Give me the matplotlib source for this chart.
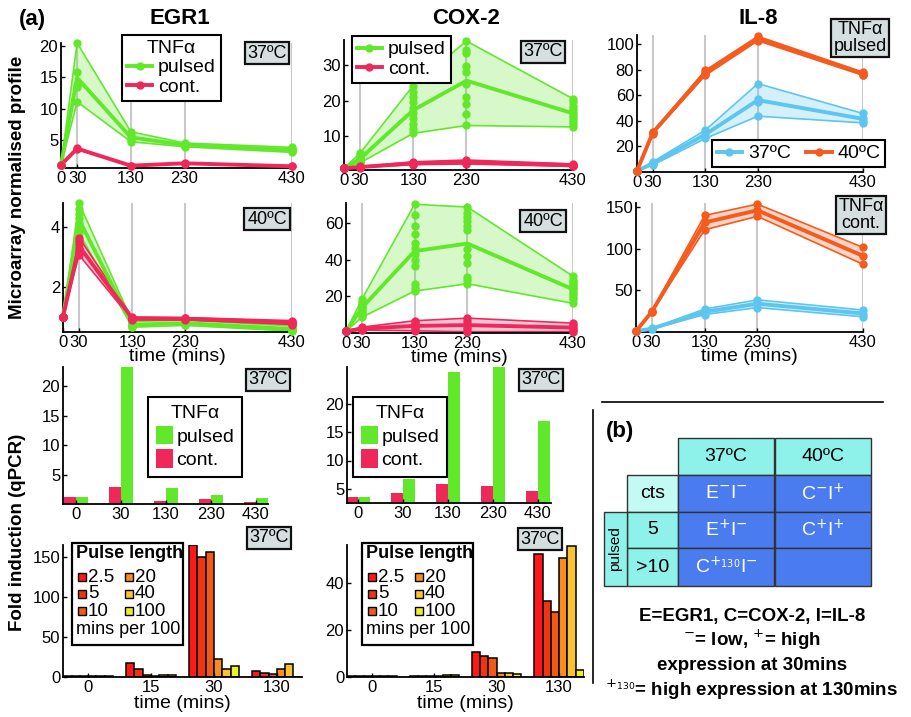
import numpy as np
import matplotlib
matplotlib.use("Agg")
import matplotlib.pyplot as plt
from matplotlib.patches import Rectangle, Patch
from matplotlib.lines import Line2D

plt.rcParams['font.family'] = ['Liberation Sans', 'DejaVu Sans']
plt.rcParams['font.size'] = 12

# ---- data ----
times = [0, 30, 130, 230, 430]

egr1_37_pulsed = [[1, 20.5, 6.3, 4.5, 3.8],
                  [1, 15.9, 5.7, 4.3, 3.6],
                  [1, 13.8, 5.3, 4.2, 3.4],
                  [1, 13.4, 5.0, 4.0, 3.2],
                  [1, 11.1, 4.7, 3.9, 3.0]]
egr1_37_cont = [[1, 3.7, 0.9, 1.3, 0.8],
                [1, 3.5, 0.85, 1.2, 0.75]]
egr1_40_pulsed = [[1, 4.8, 0.85, 0.90, 0.70],
                  [1, 4.6, 0.80, 0.85, 0.65],
                  [1, 4.45, 0.78, 0.82, 0.62],
                  [1, 4.3, 0.75, 0.80, 0.60],
                  [1, 4.15, 0.72, 0.78, 0.58],
                  [1, 4.0, 0.70, 0.76, 0.56],
                  [1, 3.9, 0.68, 0.74, 0.54],
                  [1, 3.8, 0.66, 0.72, 0.53]]
egr1_40_cont = [[1, 3.65, 1.00, 0.98, 0.88],
                [1, 3.55, 0.98, 0.96, 0.85],
                [1, 3.45, 0.96, 0.95, 0.82],
                [1, 3.3, 0.95, 0.94, 0.80],
                [1, 3.2, 0.93, 0.92, 0.78],
                [1, 3.07, 0.90, 0.90, 0.75]]

cox2_37_pulsed = [[1, 5.2, 24.2, 36.7, 20.5],
                  [1, 4.6, 22.5, 34.2, 19.5],
                  [1, 4.2, 21.0, 33.4, 18.5],
                  [1, 3.9, 19.5, 29.7, 17.5],
                  [1, 3.6, 18.0, 27.9, 16.8],
                  [1, 3.4, 16.5, 24.7, 16.0],
                  [1, 3.2, 15.0, 20.9, 15.0],
                  [1, 3.0, 13.5, 19.1, 14.2],
                  [1, 2.8, 12.0, 16.3, 13.4],
                  [1, 2.5, 10.8, 13.0, 12.6]]
cox2_37_cont = [[1, 1.5, 2.8, 3.3, 2.2],
                [1, 1.4, 2.6, 3.0, 2.0],
                [1, 1.35, 2.4, 2.8, 1.9],
                [1, 1.3, 2.3, 2.6, 1.8],
                [1, 1.25, 2.1, 2.4, 1.7],
                [1, 1.2, 2.0, 2.2, 1.5]]
cox2_40_pulsed = [[1, 18.4, 70.3, 68.8, 31.0],
                  [1, 17.0, 64.3, 65.6, 29.2],
                  [1, 16.0, 58.4, 63.4, 28.0],
                  [1, 15.5, 53.9, 61.1, 26.5],
                  [1, 15.0, 49.4, 58.4, 25.5],
                  [1, 14.5, 46.3, 56.2, 24.5],
                  [1, 14.0, 43.0, 45.8, 23.8],
                  [1, 13.0, 40.0, 42.2, 22.5],
                  [1, 12.0, 36.8, 38.5, 21.1],
                  [1, 11.0, 26.5, 30.6, 19.5],
                  [1, 10.0, 24.7, 28.8, 18.4],
                  [1, 8.6, 22.9, 26.9, 16.2]]
cox2_40_cont = [[1, 3.2, 6.7, 8.1, 5.4],
                [1, 2.8, 5.5, 6.5, 4.4],
                [1, 2.5, 4.3, 5.0, 3.4],
                [1, 2.2, 3.4, 3.5, 2.4],
                [1, 1.9, 2.2, 2.0, 1.5],
                [1, 1.6, 1.2, 0.7, 0.7]]

il8_pulsed_40 = [[1, 31.5, 79.4, 106.0, 78.0],
                 [1, 31.0, 78.0, 104.5, 77.0],
                 [1, 30.5, 76.5, 103.5, 76.0],
                 [1, 30.0, 75.5, 102.5, 75.5]]
il8_pulsed_37 = [[1, 8.0, 32.7, 69.0, 45.7],
                 [1, 7.0, 30.5, 57.0, 41.8],
                 [1, 6.0, 28.0, 55.0, 40.0],
                 [1, 5.4, 26.2, 43.6, 38.4]]
il8_cont_40 = [[1, 25.0, 140.0, 153.7, 101.6],
               [1, 24.4, 132.0, 146.0, 91.5],
               [1, 23.8, 122.8, 139.0, 81.3]]
il8_cont_37 = [[1, 4.5, 27.6, 38.6, 26.4],
               [1, 4.0, 24.0, 34.0, 22.0],
               [1, 3.5, 21.0, 29.3, 18.3]]

qpcr_times = ['0', '30', '130', '230', '430']
egr1_qpcr_cont = [1.2, 2.9, 0.5, 0.85, 0.35]
egr1_qpcr_pulsed = [1.2, 23.5, 2.7, 1.5, 1.0]
cox2_qpcr_cont = [3.5, 4.2, 5.8, 5.5, 4.6]
cox2_qpcr_pulsed = [3.5, 6.7, 25.7, 27.0, 16.9]

pulse_times = ['0', '15', '30', '130']
pulse_labels = ['2.5', '5', '10', '20', '40', '100']
# rows = pulse length, columns = time
egr1_pulse = [[0.8, 17.0, 165.0, 7.0],
              [0.8, 10.0, 150.0, 4.6],
              [0.8, 2.0, 156.0, 4.0],
              [0.8, 1.5, 22.0, 10.0],
              [1.5, 3.0, 10.0, 16.0],
              [0.8, 2.5, 14.0, 0.5]]
cox2_pulse = [[0.5, 0.4, 10.6, 52.3],
              [0.5, 0.4, 8.9, 32.3],
              [0.5, 0.4, 8.2, 27.7],
              [0.5, 0.5, 1.9, 50.6],
              [0.5, 1.0, 1.6, 55.7],
              [0.5, 1.0, 1.4, 3.0]]

GREEN = '#62E82A'
RED = '#F0285A'
BLUE = '#5CC6F0'
ORANGE = '#F55A1E'
PULSE_COLS = ['#FF1818', '#EE3412', '#F05A16', '#F78C20', '#F8C232', '#EEF024']
BOXC = '#d5dfdf'

W, H = 912, 717
fig = plt.figure(figsize=(W / 100, H / 100), dpi=100)

ov = fig.add_axes([0, 0, 1, 1])
ov.set_xlim(0, W)
ov.set_ylim(H, 0)
ov.axis('off')
ov.set_zorder(10)


def add_ax(l, t, r, b):
    ax = fig.add_axes([l / W, 1 - b / H, (r - l) / W, (b - t) / H])
    ax.spines[['top', 'right']].set_visible(False)
    for s in ('left', 'bottom'):
        ax.spines[s].set_linewidth(1.3)
    ax.tick_params(direction='in', length=3, width=1, labelsize=12, pad=2)
    ax.patch.set_alpha(0)
    return ax


def profile(ax, groups, ylim, yticks):
    ax.grid(axis='x', color='#c8c8c8', lw=1.5)
    ax.set_axisbelow(True)
    for reps, col in groups:
        arr = np.array(reps, dtype=float)
        lo, hi, mu = arr.min(0), arr.max(0), arr.mean(0)
        ax.fill_between(times, lo, hi, color=col, alpha=0.25, lw=0, zorder=1)
        ax.plot(times, lo, color=col, lw=1.2, zorder=2, clip_on=False)
        ax.plot(times, hi, color=col, lw=1.2, zorder=2, clip_on=False)
        ax.plot(times, mu, color=col, lw=2.8, zorder=3, clip_on=False)
        ax.plot(np.tile(times, len(arr)), arr.ravel(), 'o', color=col, ms=5,
                zorder=4, clip_on=False)
    ax.set_xlim(0, 430)
    ax.set_xticks(times)
    ax.set_ylim(*ylim)
    ax.set_yticks(yticks)


def box_label(cx, cy, txt):
    ov.text(cx, cy, txt, ha='center', va='center', fontsize=13, linespacing=0.95,
            bbox=dict(boxstyle='square,pad=0.15', fc=BOXC, ec='#111', lw=1.6))


def leg_px(ax, handles, labels, x, y, **kw):
    opts = dict(fancybox=False, edgecolor='k', framealpha=1, borderpad=0.25,
                labelspacing=0.1, handletextpad=0.3, borderaxespad=0,
                fontsize=14, title_fontsize=14)
    opts.update(kw)
    leg = ax.legend(handles, labels, loc='upper left', bbox_to_anchor=(x / W, 1 - y / H),
                    bbox_transform=fig.transFigure, **opts)
    leg.get_frame().set_linewidth(1.5)
    return leg


# ---- row 1: microarray, TNFa pulsed / 37C ----
ax = add_ax(61, 43, 292, 168)
profile(ax, [(egr1_37_pulsed, GREEN), (egr1_37_cont, RED)], (0.5, 20.5), [5, 10, 15, 20])
line_h = [Line2D([], [], color=GREEN, lw=2.8, marker='o', ms=5),
          Line2D([], [], color=RED, lw=2.8, marker='o', ms=5)]
leg_px(ax, line_h, ['pulsed', 'cont.'], 122, 35, title='TNFα', handlelength=1.3)

ax = add_ax(344, 40, 573, 170)
profile(ax, [(cox2_37_pulsed, GREEN), (cox2_37_cont, RED)], (0.5, 37), [10, 20, 30])
leg_px(ax, line_h, ['pulsed', 'cont.'], 352, 36, handlelength=1.3)

ax = add_ax(637, 35, 863, 172)
profile(ax, [(il8_pulsed_37, BLUE), (il8_pulsed_40, ORANGE)], (0, 107), [20, 40, 60, 80, 100])
il8_h = [Line2D([], [], color=BLUE, lw=2.8, marker='o', ms=5),
         Line2D([], [], color=ORANGE, lw=2.8, marker='o', ms=5)]
leg_px(ax, il8_h, ['37ºC', '40ºC'], 712, 140, ncol=2, handlelength=1.3, columnspacing=0.8)

# ---- row 2: 40C / TNFa cont ----
ax = add_ax(63, 203, 292, 332)
profile(ax, [(egr1_40_pulsed, GREEN), (egr1_40_cont, RED)], (0.5, 4.8), [2, 4])
ax.set_xlabel('time (mins)', fontsize=14, labelpad=-1)

ax = add_ax(346, 203, 573, 333)
profile(ax, [(cox2_40_pulsed, GREEN), (cox2_40_cont, RED)], (0, 71), [20, 40, 60])
ax.set_xlabel('time (mins)', fontsize=14, labelpad=-1)

ax = add_ax(636, 203, 863, 332)
profile(ax, [(il8_cont_37, BLUE), (il8_cont_40, ORANGE)], (0, 155), [50, 100, 150])
ax.set_xlabel('time (mins)', fontsize=14, labelpad=-1)

# ---- row 3: qPCR ----
bar_h = [Patch(fc=GREEN), Patch(fc=RED)]


def qpcr(ax, cont, pulsed, ylim, xlim):
    x = np.arange(len(qpcr_times))
    ax.bar(x - 0.135, cont, width=0.27, color=RED)
    ax.bar(x + 0.135, pulsed, width=0.27, color=GREEN)
    ax.set_xticks(x)
    ax.set_xticklabels(qpcr_times)
    ax.set_ylim(*ylim)
    ax.set_xlim(*xlim)
    ax.set_yticks([5, 10, 15, 20])


qleg = dict(title='TNFα', handlelength=0.9, handleheight=1.1, handletextpad=0.15,
            labelspacing=0.2, borderpad=0.4)
ax = add_ax(63, 367, 268, 504)
qpcr(ax, egr1_qpcr_cont, egr1_qpcr_pulsed, (0, 23.3), (-0.29, 4.27))
leg_px(ax, bar_h, ['pulsed', 'cont.'], 148, 397, **qleg)

ax = add_ax(347, 367, 551, 503)
qpcr(ax, cox2_qpcr_cont, cox2_qpcr_pulsed, (2.5, 26.5), (-0.24, 4.29))
leg_px(ax, bar_h, ['pulsed', 'cont.'], 353, 397, **qleg)

# ---- row 4: pulse length ----


def pulse(ax, data, ylim, yticks):
    x = np.arange(len(pulse_times))
    bw = 0.132
    for i, (vals, col) in enumerate(zip(data, PULSE_COLS)):
        ax.bar(x + (i - 2.5) * bw, vals, width=bw, color=col, edgecolor='k', lw=1.1)
    ax.set_xticks(x)
    ax.set_xticklabels(pulse_times)
    ax.set_xlim(-0.4, 3.4)
    ax.set_ylim(*ylim)
    ax.set_yticks(yticks)
    ax.set_xlabel('time (mins)', fontsize=14, labelpad=0)


def pulse_legend(x0, y0):
    ov.add_patch(Rectangle((x0, y0), 111, 102, fc='white', ec='k', lw=1.6))
    ov.text(x0 + 4, y0 + 11, 'Pulse length', fontweight='bold', fontsize=13, va='center')
    for i, (lab, col) in enumerate(zip(pulse_labels, PULSE_COLS)):
        c, r = divmod(i, 3)
        sx = x0 + 6 + c * 47
        sy = y0 + 34 + r * 17
        ov.add_patch(Rectangle((sx, sy - 4), 8, 8, fc=col, ec='k', lw=1))
        ov.text(sx + 10, sy, lab, va='center', fontsize=13.5)
    ov.text(x0 + 4, y0 + 86, 'mins per 100', va='center', fontsize=13)


ax = add_ax(63, 545, 302, 677)
pulse(ax, egr1_pulse, (0, 165), [0, 50, 100, 150])
pulse_legend(72, 543)

ax = add_ax(347, 545, 584, 677)
pulse(ax, cox2_pulse, (0, 56), [0, 20, 40])
pulse_legend(362, 543)

# ---- labels and boxes ----
ov.text(32, 19, '(a)', fontsize=16, fontweight='bold', ha='center', va='center')
ov.text(180, 19, 'EGR1', fontsize=16, fontweight='bold', ha='center', va='center')
ov.text(466, 19, 'COX-2', fontsize=16, fontweight='bold', ha='center', va='center')
ov.text(758, 19, 'IL-8', fontsize=16, fontweight='bold', ha='center', va='center')
ov.text(18, 187, 'Microarray normalised profile', rotation=90, fontsize=13.5,
        fontweight='bold', ha='center', va='center')
ov.text(18, 532, 'Fold induction (qPCR)', rotation=90, fontsize=13.5,
        fontweight='bold', ha='center', va='center')

for cx, cy in [(267, 53), (543, 52), (267, 219), (543, 221), (268, 380),
               (541, 380), (269, 538), (540, 539)]:
    box_label(cx, cy, '37ºC' if cy not in (219, 221) else '40ºC')
box_label(860, 38, 'TNFα\npulsed')
box_label(861, 215, 'TNFα\ncont.')

# ---- panel (b) ----
ov.plot([602, 883], [402, 402], color='k', lw=1.2)
ov.plot([593, 593], [410, 683], color='k', lw=1.2)
ov.text(620, 432, '(b)', fontsize=16, fontweight='bold', ha='center', va='center')

CYAN = '#8EF2EA'
LCYAN = '#C4FAF4'
BLUEC = '#4A7CF0'
cells = [(678, 438, 774, 475, CYAN, '37ºC', 'k'),
         (775, 438, 871, 475, CYAN, '40ºC', 'k'),
         (627, 475, 678, 512, LCYAN, 'cts', 'k'),
         (627, 512, 678, 548, CYAN, '5', 'k'),
         (627, 548, 678, 586, CYAN, '>10', 'k'),
         (678, 475, 774, 512, BLUEC, r'E$^{-}$I$^{-}$', 'w'),
         (775, 475, 871, 512, BLUEC, r'C$^{-}$I$^{+}$', 'w'),
         (678, 512, 774, 548, BLUEC, r'E$^{+}$I$^{-}$', 'w'),
         (775, 512, 871, 548, BLUEC, r'C$^{+}$I$^{+}$', 'w'),
         (678, 548, 774, 586, BLUEC, r'C$^{+_{130}}$I$^{-}$', 'w'),
         (775, 548, 871, 586, BLUEC, '', 'w')]
for l, t, r, b, fc, txt, tc in cells:
    ov.add_patch(Rectangle((l, t), r - l, b - t, fc=fc, ec='#333', lw=1))
    ov.text((l + r) / 2, (t + b) / 2, txt, color=tc, fontsize=14, ha='center', va='center')
ov.add_patch(Rectangle((604, 512), 23, 74, fc=CYAN, ec='#333', lw=1))
ov.text(615.5, 549, 'pulsed', rotation=90, fontsize=11, ha='center', va='center')

for y, txt in [(617, 'E=EGR1, C=COX-2, I=IL-8'),
               (640, r'$^{-}$= low, $^{+}$= high'),
               (666, 'expression at 30mins'),
               (690, r'$^{+_{130}}$= high expression at 130mins')]:
    ov.text(752, y, txt, fontsize=13.5, fontweight='bold', ha='center', va='center')

fig.savefig('out.png', dpi=100)
